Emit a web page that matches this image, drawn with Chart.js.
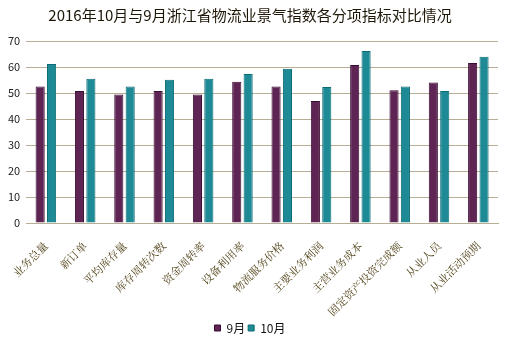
<!DOCTYPE html>
<html>
<head>
<meta charset="utf-8">
<script src="https://cdn.jsdelivr.net/npm/chart.js@4"></script>
<style>
  html, body { margin: 0; padding: 0; background: #fff; }
  #wrap { width: 506px; height: 344px; }
</style>
</head>
<body>
<div id="wrap"><canvas id="c"></canvas></div>
<script>
const categories = ["业务总量", "新订单", "平均库存量", "库存周转次数", "资金周转率", "设备利用率",
  "物流服务价格", "主要业务利润", "主营业务成本", "固定资产投资完成额", "从业人员", "从业活动预期"];
const sep = [52.5, 50.8, 49.4, 50.8, 49.4, 54.3, 52.5, 46.9, 60.8, 51.1, 54.0, 61.5];
const oct = [61.2, 55.5, 52.5, 55.1, 55.5, 57.3, 59.3, 52.3, 66.2, 52.5, 50.8, 63.9];
const seriesNames = ["9月", "10月"];
const yTicks = [0, 10, 20, 30, 40, 50, 60, 70];

const sans = "'Noto Sans CJK SC', 'Noto Sans', sans-serif";
const gridColor = "#b8ad95";

new Chart(document.getElementById("c"), {
  type: "bar",
  data: {
    labels: categories,
    datasets: [
      { label: seriesNames[0], data: sep, backgroundColor: "#5e2454", borderColor: "#3a0c33", borderWidth: 1 },
      { label: seriesNames[1], data: oct, backgroundColor: "#1d8a95", borderColor: "#0c6c76", borderWidth: 1 }
    ]
  },
  options: {
    responsive: true,
    maintainAspectRatio: false,
    animation: false,
    layout: { padding: { left: 2, right: 8, top: 0, bottom: 0 } },
    datasets: { bar: { categoryPercentage: 0.58, barPercentage: 0.8 } },
    plugins: {
      title: {
        display: true,
        text: "2016年10月与9月浙江省物流业景气指数各分项指标对比情况",
        color: "#1e1708",
        font: { family: sans, size: 15, weight: "normal" },
        padding: { top: 6, bottom: 17 }
      },
      legend: {
        position: "bottom",
        labels: {
          color: "#111",
          font: { family: sans, size: 12 },
          boxWidth: 6, boxHeight: 6, padding: 3
        }
      },
      tooltip: { enabled: false }
    },
    scales: {
      x: {
        grid: { display: false },
        border: { color: gridColor },
        afterFit: scale => { scale.height = 96; },
        ticks: {
          color: "#52441a",
          font: { family: "'Noto Serif CJK SC', 'Noto Sans CJK SC', serif", size: 11 },
          maxRotation: 45, minRotation: 45, autoSkip: false, padding: 8
        }
      },
      y: {
        min: 0, max: 70,
        afterBuildTicks: axis => { axis.ticks = yTicks.map(v => ({ value: v })); },
        grid: { color: gridColor, drawTicks: false },
        border: { display: false },
        ticks: { color: "#222", font: { family: sans, size: 11 }, padding: 6 }
      }
    }
  }
});
</script>
</body>
</html>
